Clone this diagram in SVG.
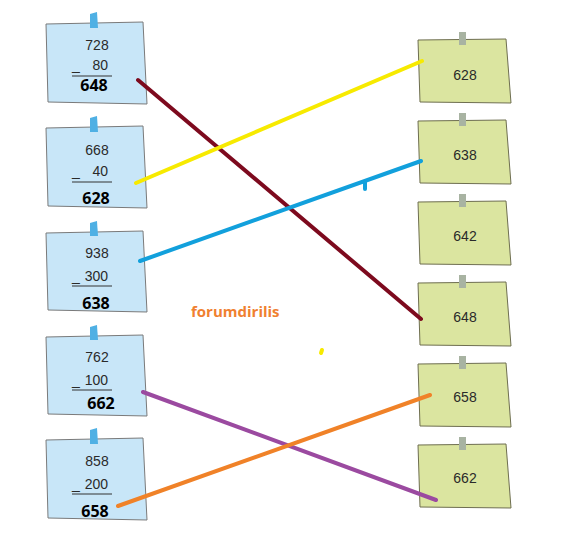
<svg xmlns="http://www.w3.org/2000/svg" width="569" height="545" viewBox="0 0 569 545">
<style>
.lb{fill:#c8e6f8;stroke:#7a7a7a;stroke-width:1}
.rb{fill:#dbe5a0;stroke:#6e6e50;stroke-width:1}
.lt{fill:#4fb0e4}
.rt{fill:#a8b3a2}
.n{font-family:"Liberation Sans",Arial,sans-serif;font-size:14px;fill:#2a2a2a}
.b{font-family:"Open Sans","Liberation Sans",sans-serif;font-size:16px;font-weight:bold;fill:#000}
.bar{stroke:#333;stroke-width:1.2}
.c{fill:none;stroke-width:4;stroke-linecap:round}
</style>
<rect width="569" height="545" fill="#fff"/>
<g id="left1">
<path class="lb" d="M46,24 L143,22 L147,104 L48,102 Z"/>
<path class="lt" d="M90,14 L97,12 L98,28 L90,28 Z"/>
<text class="n" x="97" y="50" text-anchor="middle">728</text>
<text class="n" x="72" y="70">_</text><text class="n" x="108" y="70" text-anchor="end">80</text>
<line class="bar" x1="72" y1="76" x2="112" y2="76"/>
<text class="b" x="94" y="91" text-anchor="middle">648</text>
</g>
<g id="left2">
<path class="lb" d="M46,128 L143,126 L147,208 L48,206 Z"/>
<path class="lt" d="M90,118 L97,116 L98,132 L90,132 Z"/>
<text class="n" x="97" y="155" text-anchor="middle">668</text>
<text class="n" x="72" y="176">_</text><text class="n" x="108" y="176" text-anchor="end">40</text>
<line class="bar" x1="72" y1="182" x2="112" y2="182"/>
<text class="b" x="96" y="204" text-anchor="middle">628</text>
</g>
<g id="left3">
<path class="lb" d="M46,233 L143,231 L147,312 L48,310 Z"/>
<path class="lt" d="M90,223 L97,221 L98,236 L90,236 Z"/>
<text class="n" x="97" y="258" text-anchor="middle">938</text>
<text class="n" x="72" y="281">_</text><text class="n" x="108" y="281" text-anchor="end">300</text>
<line class="bar" x1="72" y1="286" x2="112" y2="286"/>
<text class="b" x="96" y="309" text-anchor="middle">638</text>
</g>
<g id="left4">
<path class="lb" d="M46,337 L143,335 L147,416 L48,414 Z"/>
<path class="lt" d="M90,327 L97,325 L98,340 L90,340 Z"/>
<text class="n" x="97" y="362" text-anchor="middle">762</text>
<text class="n" x="72" y="385">_</text><text class="n" x="108" y="385" text-anchor="end">100</text>
<line class="bar" x1="72" y1="390" x2="112" y2="390"/>
<text class="b" x="101" y="409" text-anchor="middle">662</text>
</g>
<g id="left5">
<path class="lb" d="M46,440 L143,438 L147,520 L48,518 Z"/>
<path class="lt" d="M90,430 L97,428 L98,444 L90,444 Z"/>
<text class="n" x="97" y="466" text-anchor="middle">858</text>
<text class="n" x="72" y="489">_</text><text class="n" x="108" y="489" text-anchor="end">200</text>
<line class="bar" x1="72" y1="494" x2="112" y2="494"/>
<text class="b" x="95" y="517" text-anchor="middle">658</text>
</g>
<g id="right1">
<path class="rb" d="M418,40 L506,39 L511,103 L420,102 Z"/>
<path class="rt" d="M459,32 L466,32 L466,45 L459,45 Z"/>
<text class="n" x="465" y="80" text-anchor="middle">628</text>
</g>
<g id="right2">
<path class="rb" d="M418,121 L506,120 L511,184 L420,183 Z"/>
<path class="rt" d="M459,113 L466,113 L466,126 L459,126 Z"/>
<text class="n" x="465" y="160" text-anchor="middle">638</text>
</g>
<g id="right3">
<path class="rb" d="M418,202 L506,201 L511,265 L420,264 Z"/>
<path class="rt" d="M459,194 L466,194 L466,207 L459,207 Z"/>
<text class="n" x="465" y="241" text-anchor="middle">642</text>
</g>
<g id="right4">
<path class="rb" d="M418,283 L506,282 L511,346 L420,345 Z"/>
<path class="rt" d="M459,275 L466,275 L466,288 L459,288 Z"/>
<text class="n" x="465" y="322" text-anchor="middle">648</text>
</g>
<g id="right5">
<path class="rb" d="M418,364 L506,363 L511,427 L420,426 Z"/>
<path class="rt" d="M459,356 L466,356 L466,369 L459,369 Z"/>
<text class="n" x="465" y="402" text-anchor="middle">658</text>
</g>
<g id="right6">
<path class="rb" d="M418,445 L506,444 L511,508 L420,507 Z"/>
<path class="rt" d="M459,437 L466,437 L466,450 L459,450 Z"/>
<text class="n" x="465" y="483" text-anchor="middle">662</text>
</g>
<text x="191" y="317" font-family="'Open Sans','Liberation Sans',sans-serif" font-size="15" font-weight="bold" fill="#f08030">forumdirilis</text>
<g id="connectors">
<line class="c" stroke="#7d0a1e" x1="138" y1="80" x2="421" y2="319"/>
<line class="c" stroke="#f7ea00" x1="136" y1="183" x2="422" y2="61"/>
<line class="c" stroke="#12a0dc" x1="140" y1="261" x2="421" y2="161"/>
<path class="c" stroke="#12a0dc" d="M365,182 L365,189"/>
<line class="c" stroke="#9b4aa0" x1="143" y1="392" x2="436" y2="500"/>
<line class="c" stroke="#f08228" x1="118" y1="506" x2="430" y2="395"/>
<path class="c" stroke="#f7ea00" d="M322,350 L321,353"/>
</g>
</svg>
